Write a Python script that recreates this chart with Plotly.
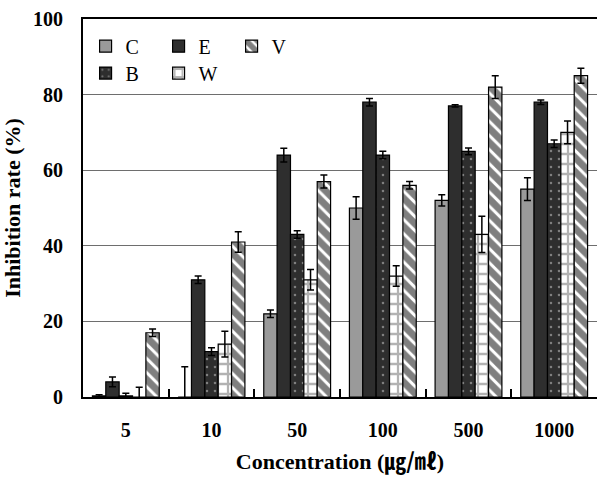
import plotly.graph_objects as go

categories = ["5", "10", "50", "100", "500", "1000"]

C_vals = [0.3, 0, 22, 50, 52, 55]
C_err = [0.3, 8, 1, 3, 1.5, 3]
E_vals = [4, 31, 64, 78, 77, 78]
E_err = [1.3, 1, 1.8, 1, 0.3, 0.6]
B_vals = [0.3, 12, 43, 64, 65, 67]
B_err = [0.7, 1, 1, 1, 0.9, 1]
W_vals = [0, 14, 31, 32, 43, 70]
W_err = [2.6, 3.4, 2.7, 2.7, 4.8, 3]
V_vals = [17, 41, 57, 56, 82, 85]
V_err = [1, 2.7, 1.7, 1, 3, 2]

FONT = "Liberation Serif"

def err(e):
    return dict(type="data", array=e, visible=True, color="black", thickness=1.5, width=3.5)

fig = go.Figure()
fig.add_trace(go.Bar(name="C", x=categories, y=C_vals, error_y=err(C_err),
                     marker=dict(color="#9a9a9a", line=dict(color="black", width=1.2)),
                     legend="legend", legendrank=1))
fig.add_trace(go.Bar(name="E", x=categories, y=E_vals, error_y=err(E_err),
                     marker=dict(color="#2e2e2e", line=dict(color="black", width=1.2)),
                     legend="legend", legendrank=2))
fig.add_trace(go.Bar(name="B", x=categories, y=B_vals, error_y=err(B_err),
                     marker=dict(color="#2e2e2e", line=dict(color="black", width=1.2),
                                 pattern=dict(shape=".", bgcolor="#2e2e2e", fgcolor="#d0d0d0",
                                              size=8, solidity=0.08, fillmode="overlay")),
                     legend="legend2", legendrank=1))
fig.add_trace(go.Bar(name="W", x=categories, y=W_vals, error_y=err(W_err),
                     marker=dict(color="white", line=dict(color="black", width=1.2),
                                 pattern=dict(shape="+", bgcolor="white", fgcolor="#666666",
                                              size=10, solidity=0.4, fillmode="overlay")),
                     legend="legend2", legendrank=2))
fig.add_trace(go.Bar(name="V", x=categories, y=V_vals, error_y=err(V_err),
                     marker=dict(color="white", line=dict(color="black", width=1.2),
                                 pattern=dict(shape="\\", bgcolor="white", fgcolor="#000000",
                                              size=10, solidity=0.7, fillmode="overlay")),
                     legend="legend", legendrank=3))

legend_common = dict(orientation="h", xanchor="left", yanchor="middle",
                     bgcolor="rgba(0,0,0,0)", borderwidth=0,
                     font=dict(family=FONT, size=20, color="black"),
                     entrywidth=28, entrywidthmode="pixels", traceorder="normal")

fig.update_layout(
    width=599, height=479,
    margin=dict(l=83, r=2, t=19, b=82),
    paper_bgcolor="white", plot_bgcolor="white",
    barmode="group", bargap=0.22, bargroupgap=0,
    showlegend=True,
    legend=dict(x=0.005, y=0.928, **legend_common),
    legend2=dict(x=0.005, y=0.857, **legend_common),
    xaxis=dict(
        type="category",
        showline=True, linecolor="black", linewidth=2, mirror=True,
        ticks="inside", tickson="boundaries", ticklen=8, tickwidth=1.5, tickcolor="black",
        showgrid=False,
        tickfont=dict(family=FONT, size=20, color="black", weight="bold"),
        ticklabelstandoff=14,
        title=dict(text="Concentration (<span style=\"font-family:'Noto Sans CJK KR'\">㎍/㎖</span>)",
                   font=dict(family=FONT, size=22, color="black", weight="bold"),
                   standoff=14),
    ),
    yaxis=dict(
        range=[0, 100], tickvals=[0, 20, 40, 60, 80, 100],
        showline=True, linecolor="black", linewidth=2, mirror=False,
        ticks="", showgrid=True, gridcolor="#6e6e6e", gridwidth=1,
        zeroline=False,
        tickfont=dict(family=FONT, size=20, color="black", weight="bold"),
        ticklabelstandoff=14,
        title=dict(text="Inhibition rate (%)",
                   font=dict(family=FONT, size=22, color="black", weight="bold"),
                   standoff=11),
    ),
)

fig.write_html("out.html")
